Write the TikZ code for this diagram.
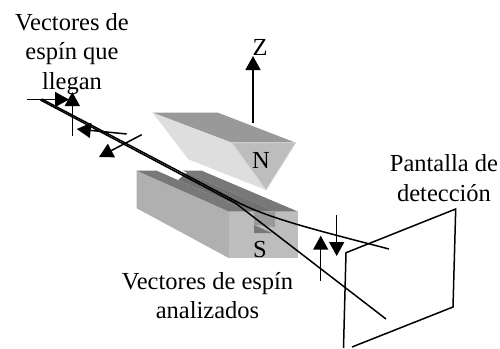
\documentclass[tikz,border=0pt]{standalone}
\usepackage{fontspec}
\setmainfont{Liberation Serif}
\usetikzlibrary{arrows.meta}
\definecolor{imantop}{gray}{0.6}
\definecolor{imanlight}{gray}{0.87}
\definecolor{imanend}{gray}{0.74}
\definecolor{imanside}{gray}{0.69}
\definecolor{imanstrip}{gray}{0.47}
\definecolor{imanfront}{gray}{0.74}
\tikzset{
  label/.style={font=\fontsize{24.5}{29.5}\selectfont,align=center,inner sep=0pt},
  vector/.style={line width=1.5pt,-{Triangle[length=14pt,width=15pt]}},
  ray/.style={line width=1.5pt},
}
\begin{document}
\begin{tikzpicture}[x=1pt,y=-1pt]
  \useasboundingbox (0,0) rectangle (500,348);
  % iman norte
  \fill[imantop] (152.7,112.7)--(218,112.7)--(295.7,142.7)--(231.7,142.7)--cycle;
  \fill[imanlight] (152.7,112.7)--(231.7,142.7)--(266,190)--(188.3,159.3)--cycle;
  \filldraw[fill=imanend,draw=imanlight!80!imanend,line width=.8pt] (231.7,142.7)--(295.7,142.7)--(266,190)--cycle;
  \node[label] (polon) at (261,160) {N};
  % iman sur
  \fill[imanside] (136.7,170.7)--(136.7,208.3)--(229.3,258.3)--(229.3,211.7)--cycle;
  \fill[imanstrip] (136.7,170.7)--(156.7,170.7)--(250,211.7)--(229.3,211.7)--cycle;
  \fill[imanstrip] (182.7,170.7)--(201.7,170.7)--(298.3,211.7)--(275,211.7)--cycle;
  \fill[imanstrip!105!white] (178,180)--(187,172.5)--(275,211.7)--(250,211.7)--cycle;
  \fill[imanfront] (229.3,211.7)--(298.3,211.7)--(298.3,258.3)--(229.3,258.3)--cycle;
  \fill[imantop] (254,211.7)--(275,211.7)--(275,227)--(254,225)--cycle;
  \fill[imanstrip] (254,225)--(272,233)--(254,233)--cycle;
  \node[label] (pols) at (260,250) {S};
  % pantalla
  \coordinate (pa) at (346,252.7);
  \coordinate (pb) at (455.7,209);
  \coordinate (pc) at (453,307);
  \coordinate (pd) at (352,347);
  \coordinate (pe) at (343.5,348);
  \draw[ray] (pe)--(pa)--(pb)--(pc)--(pd);
  % haz
  \coordinate (hi) at (41.7,99);
  \coordinate (hj) at (40.5,100);
  \coordinate (hu) at (236.7,201.7);
  \coordinate (hv) at (389,249);
  \coordinate (hw) at (386,319);
  \draw[ray] (hi)--(hu) .. controls (270,219) and (320,231) .. (hv);
  \draw[ray] (hj)--(236,203.5)--(hw);
  % vectores
  \coordinate (a0) at (27,99.5); \coordinate (a1) at (69,99.5);
  \coordinate (b0) at (72.3,136); \coordinate (b1) at (72.3,92);
  \coordinate (c0) at (126.7,134); \coordinate (c1) at (76.7,129);
  \coordinate (d0) at (141.7,134.7); \coordinate (d1) at (99,157);
  \coordinate (z0) at (253,122.7); \coordinate (z1) at (253,56);
  \coordinate (e0) at (320.7,280.7); \coordinate (e1) at (320.7,235.7);
  \coordinate (f0) at (336.7,215); \coordinate (f1) at (336.7,256);
  \draw[vector] (a0)--(a1);
  \draw[vector] (b0)--(b1);
  \draw[vector] (c0)--(c1);
  \draw[vector] (d0)--(d1);
  \draw[vector] (z0)--(z1);
  \draw[vector] (e0)--(e1);
  \draw[vector] (f0)--(f1);
  % textos
  \node[label] (llegan) at (72,54) {Vectores de\\espín que\\llegan};
  \node[label] (ejez) at (260,47) {Z};
  \node[label] (detect) at (444,178) {Pantalla de\\detección};
  \node[label] (analiz) at (207.5,295.5) {Vectores de espín\\analizados};
\end{tikzpicture}
\end{document}
